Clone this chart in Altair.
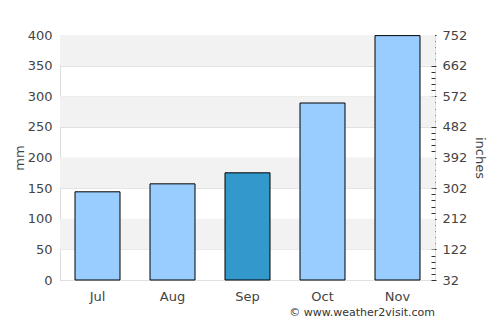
import altair as alt
import pandas as pd

months = ["Jul", "Aug", "Sep", "Oct", "Nov"]
rain_mm = [144, 157, 175, 289, 399]
highlight = ["no", "no", "yes", "no", "no"]
band_lo = [50, 150, 250, 350]
band_hi = [100, 200, 300, 400]
mm_ticks = list(range(0, 401, 50))
inch_ticks = list(range(32, 753, 18))

bars_df = pd.DataFrame({"month": months, "mm": rain_mm, "hl": highlight})
bands_df = pd.DataFrame({"lo": band_lo, "hi": band_hi})
inch_df = pd.DataFrame({"inches": [32, 752]})

FONT = "DejaVu Sans"

yscale = alt.Scale(domain=[0, 400], nice=False, zero=True)
yaxis = alt.Axis(values=mm_ticks, title="mm", ticks=False,
                 labelOverlap=False,
                 labelPadding=8, gridColor="#e0e0e0", domainColor="#dddddd",
                 labelFontSize=13, labelColor="#444444", titleFontSize=13,
                 titleColor="#444444", titleFontWeight="normal", titlePadding=1,
                 labelFont=FONT, titleFont=FONT)

bands = alt.Chart(bands_df).mark_rect(color="#f2f2f2").encode(
    y=alt.Y("lo:Q", scale=yscale, axis=yaxis),
    y2="hi:Q",
    x=alt.value(0),
    x2=alt.value(375),
)

bars = alt.Chart(bars_df).mark_bar(stroke="black", strokeWidth=1).encode(
    x=alt.X("month:N", sort=months,
            scale=alt.Scale(paddingInner=0.4, paddingOuter=0.2),
            axis=alt.Axis(title=None, labelAngle=0, ticks=False, domain=False,
                          labelPadding=10, labelFontSize=13, labelColor="#444444",
                          labelFont=FONT)),
    y=alt.Y("mm:Q", scale=yscale, axis=yaxis),
    color=alt.Color("hl:N", scale=alt.Scale(domain=["no", "yes"], range=["#99ccff", "#3399cc"]),
                    legend=None),
)

right = alt.Chart(inch_df).mark_point(opacity=0).encode(
    y=alt.Y("inches:Q", scale=alt.Scale(domain=[32, 752], nice=False, zero=False),
            axis=alt.Axis(orient="right", values=inch_ticks, title="inches",
                          labelExpr="(datum.value - 32) % 90 == 0 ? datum.label : ''",
                          labelOverlap=False, grid=False, domain=False, offset=-4,
                          tickColor="#333333", labelPadding=6, titlePadding=6,
                          tickSize={"condition": {"test": "(datum.value - 32) % 90 == 0", "value": 5}, "value": 4},
                          labelFontSize=13, labelColor="#444444", titleFontSize=13,
                          titleColor="#444444", titleFontWeight="normal",
                          labelFont=FONT, titleFont=FONT)),
)

chart = alt.layer(alt.layer(bands, bars), right).resolve_scale(y="independent").properties(
    width=375, height=245,
    padding={"left": 13, "top": 29, "right": 5, "bottom": 5},
    title=alt.TitleParams("© www.weather2visit.com", orient="bottom", anchor="end",
                          frame="group",
                          fontSize=11, fontWeight="normal", color="#333333", font=FONT,
                          offset=4),
).configure_view(stroke=None).configure(background="white")

chart.save("out.html", embed_options={"renderer": "svg", "actions": False})
